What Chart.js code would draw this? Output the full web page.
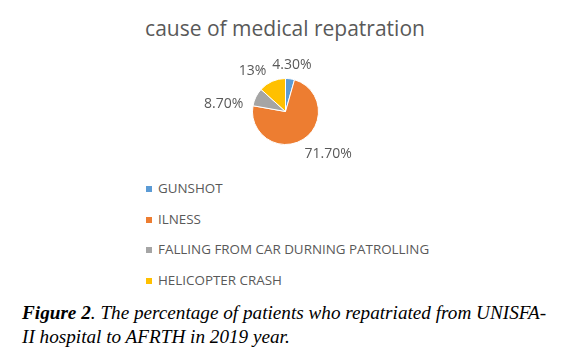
<!DOCTYPE html>
<html>
<head>
<meta charset="utf-8">
<script src="https://cdn.jsdelivr.net/npm/chart.js@4"></script>
<style>
  body { margin: 0; background: #fff; }
  #wrap { position: relative; width: 570px; height: 351px; overflow: hidden; }
  #title { position: absolute; left: 0; width: 570px; top: 14px; text-align: center;
           font-family: "Open Sans", sans-serif; font-size: 21px; color: #595959; }
  #pieBox { position: absolute; left: 0; top: 0; width: 570px; height: 175px; }
  #legend { position: absolute; left: 146px; top: 179px; font-family: "Open Sans", sans-serif;
            font-size: 13.4px; color: #595959; }
  .item { height: 30.5px; display: flex; align-items: flex-start; }
  .box { width: 6px; height: 6px; margin-top: 7px; margin-right: 6px; }
  #caption { position: absolute; left: 22px; top: 301px; font-family: "Liberation Serif", serif;
             font-style: italic; font-size: 19.2px; line-height: 24px; color: #000; }
</style>
</head>
<body>
<div id="wrap">
  <div id="title">cause of medical repatration</div>
  <div id="pieBox"><canvas id="pieChart"></canvas></div>
  <div id="legend"></div>
  <div id="caption"><b>Figure 2</b>. The percentage of patients who repatriated from UNISFA-<br>II hospital to AFRTH in 2019 year.</div>
</div>
<script>
// datos del grafico
const categorias = ['GUNSHOT', 'ILNESS', 'FALLING FROM CAR DURNING PATROLLING', 'HELICOPTER CRASH'];
const valores = [4.3, 71.7, 8.7, 13];
const etiquetas = ['4.30%', '71.70%', '8.70%', '13%'];
const colores = ['#5B9BD5', '#ED7D31', '#A5A5A5', '#FFC000'];

// leyenda vertical en html
const legend = document.getElementById('legend');
categorias.forEach((cat, i) => {
    const row = document.createElement('div');
    row.className = 'item';
    row.innerHTML = '<span class="box" style="background:' + colores[i] + '"></span>' + cat;
    legend.appendChild(row);
});

// etiquetas fuera del pastel (ajuste tipo "best fit" de excel)
const ajustes = [[0, 0], [-6, 3], [0, 13], [0, 2]];
const outsideLabels = {
    id: 'outsideLabels',
    afterDatasetsDraw(chart) {
        const ctx = chart.ctx;
        const meta = chart.getDatasetMeta(0);
        ctx.save();
        ctx.font = '14px "Open Sans", sans-serif';
        ctx.fillStyle = '#595959';
        ctx.textBaseline = 'middle';
        meta.data.forEach((arc, i) => {
            const mid = (arc.startAngle + arc.endAngle) / 2;
            const r = arc.outerRadius + 14;
            const x = arc.x + Math.cos(mid) * r + ajustes[i][0];
            const y = arc.y + Math.sin(mid) * r + ajustes[i][1];
            const c = Math.cos(mid);
            ctx.textAlign = Math.abs(c) < 0.3 ? 'center' : (c > 0 ? 'left' : 'right');
            ctx.fillText(etiquetas[i], x, y);
        });
        ctx.restore();
    }
};

const pieCtx = document.getElementById('pieChart').getContext('2d');
new Chart(pieCtx, {
    type: 'pie',
    data: {
        labels: categorias,
        datasets: [{
            data: valores,
            backgroundColor: colores,
            borderColor: '#fff',
            borderWidth: 1
        }]
    },
    options: {
        responsive: true,
        maintainAspectRatio: false,
        animation: false,
        layout: { padding: { top: 77, bottom: 29, left: 252, right: 251 } },
        plugins: {
            legend: { display: false },
            tooltip: { enabled: false }
        }
    },
    plugins: [outsideLabels]
});
</script>
</body>
</html>
